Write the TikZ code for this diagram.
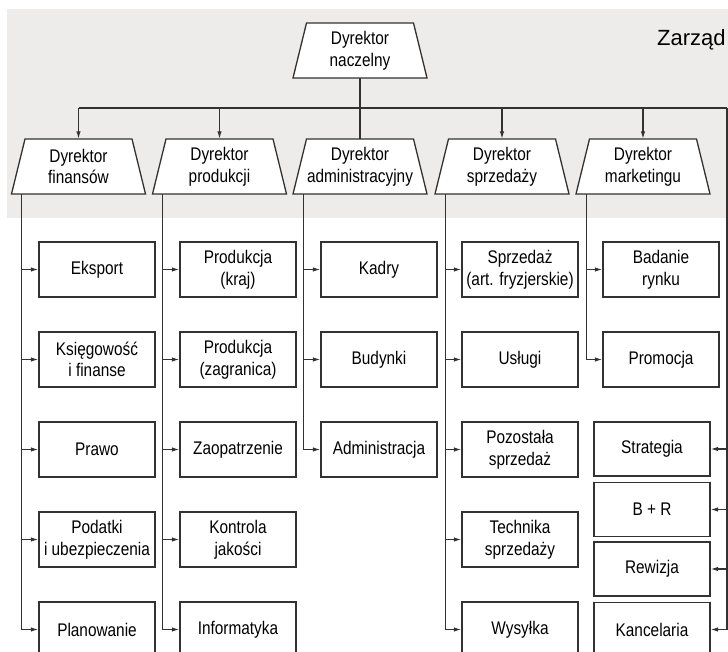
\documentclass[tikz,border=0pt]{standalone}
\usepackage{fontspec}
\setmainfont{Liberation Sans}[FakeStretch=0.84]
\newfontfamily\zfont{Liberation Sans}
\usetikzlibrary{arrows.meta}
\definecolor{linec}{RGB}{50,50,50}
\definecolor{band}{RGB}{237,236,234}
\newcommand\boxfont{\fontsize{18.3}{21.7}\selectfont}
\tikzset{
  ln/.style={draw=linec, line width=1.2pt},
  arr/.style={ln, -{Latex[length=7.5pt,width=4.5pt]}},
  box/.style={draw=linec, line width=1.3pt, fill=white, minimum width=116pt,
    minimum height=55pt, inner sep=0pt, align=center, font=\boxfont},
  rbox/.style={box, minimum height=54pt},
  trapshape/.style={draw=linec, line width=1.3pt, fill=white, line join=miter},
  traptext/.style={rectangle, minimum width=134pt, minimum height=55pt,
    inner sep=0pt, align=center, font=\boxfont}
}
% trapezoid: name, x, y, text
\newcommand\trapnode[4]{%
  \filldraw[trapshape] (#2-67,#3+27.5) -- (#2+67,#3+27.5) -- (#2+53.5,#3-27.5) -- (#2-53.5,#3-27.5) -- cycle;
  \node[traptext] (#1) at (#2,#3) {#4};}
\begin{document}
\begin{tikzpicture}[x=1pt,y=-1pt]
\useasboundingbox (0,0) rectangle (728,652);
\clip (0,0) rectangle (728,652);
\fill[band] (7,9) rectangle (730,218);
\node[anchor=base west, inner sep=0pt, font=\zfont\fontsize{22}{26}\selectfont] (zarz) at (657,46) {Zarząd};

% directors
\trapnode{top}{360}{50.5}{Dyrektor\\naczelny}
\trapnode{t1}{78.5}{166.5}{Dyrektor\\finansów}
\trapnode{t2}{219.5}{166.5}{Dyrektor\\produkcji}
\trapnode{t3}{360}{166.5}{Dyrektor\\administracyjny}
\trapnode{t4}{502}{166.5}{Dyrektor\\sprzedaży}
\trapnode{t5}{643}{166.5}{Dyrektor\\marketingu}

\coordinate (bus) at (0,108);
\coordinate (rc) at (727,108);
\coordinate (v1) at ([xshift=10.5pt]t1.south west);
\coordinate (v2) at ([xshift=10.5pt]t2.south west);
\coordinate (v3) at ([xshift=10.5pt]t3.south west);
\coordinate (v4) at ([xshift=10.5pt]t4.south west);
\coordinate (v5) at ([xshift=10.5pt]t5.south west);

% column 1
\node[box] (a1) at (97,269.5) {Eksport};
\node[box] (a2) at (97,359.5) {Księgowość\\i finanse};
\node[box] (a3) at (97,449.5) {Prawo};
\node[box] (a4) at (97,539.5) {Podatki\\i ubezpieczenia};
\node[box] (a5) at (97,629.5) {Planowanie};
% column 2
\node[box] (b1) at (238,269.5) {Produkcja\\(kraj)};
\node[box] (b2) at (238,359.5) {Produkcja\\(zagranica)};
\node[box] (b3) at (238,449.5) {Zaopatrzenie};
\node[box] (b4) at (238,539.5) {Kontrola\\jakości};
\node[box] (b5) at (238,629.5) {Informatyka};
% column 3
\node[box] (c1) at (379,269.5) {Kadry};
\node[box] (c2) at (379,359.5) {Budynki};
\node[box] (c3) at (379,449.5) {Administracja};
% column 4
\node[box] (d1) at (520,269.5) {Sprzedaż\\(art. fryzjerskie)};
\node[box] (d2) at (520,359.5) {Usługi};
\node[box] (d3) at (520,449.5) {Pozostała\\sprzedaż};
\node[box] (d4) at (520,539.5) {Technika\\sprzedaży};
\node[box] (d5) at (520,629.5) {Wysyłka};
% column 5
\node[box] (e1) at (661,269.5) {Badanie\\rynku};
\node[box] (e2) at (661,359.5) {Promocja};
% right column
\node[rbox] (r1) at (652,449) {Strategia};
\node[rbox] (r2) at (652,509.5) {B + R};
\node[rbox] (r3) at (652,569) {Rewizja};
\node[rbox] (r4) at (652,629.5) {Kancelaria};

% top connectors
\draw[ln] (top.south) -- (t3.north);
\draw[ln] (t1.north |- bus) -- (rc);
\foreach \t in {t1,t2,t4,t5} \draw[arr] (\t.north |- bus) -- (\t.north);

% column connectors
\draw[arr] (v1) |- (a5.west);
\foreach \i in {1,2,3,4} \draw[arr] (v1 |- a\i.west) -- (a\i.west);
\draw[arr] (v2) |- (b5.west);
\foreach \i in {1,2,3,4} \draw[arr] (v2 |- b\i.west) -- (b\i.west);
\draw[arr] (v3) |- (c3.west);
\foreach \i in {1,2} \draw[arr] (v3 |- c\i.west) -- (c\i.west);
\draw[arr] (v4) |- (d5.west);
\foreach \i in {1,2,3,4} \draw[arr] (v4 |- d\i.west) -- (d\i.west);
\draw[arr] (v5) |- (e2.west);
\draw[arr] (v5 |- e1.west) -- (e1.west);

% right column connectors
\draw[arr] (rc) |- (r4.east);
\foreach \i in {1,2,3} \draw[arr] (rc |- r\i.east) -- (r\i.east);
\end{tikzpicture}
\end{document}
